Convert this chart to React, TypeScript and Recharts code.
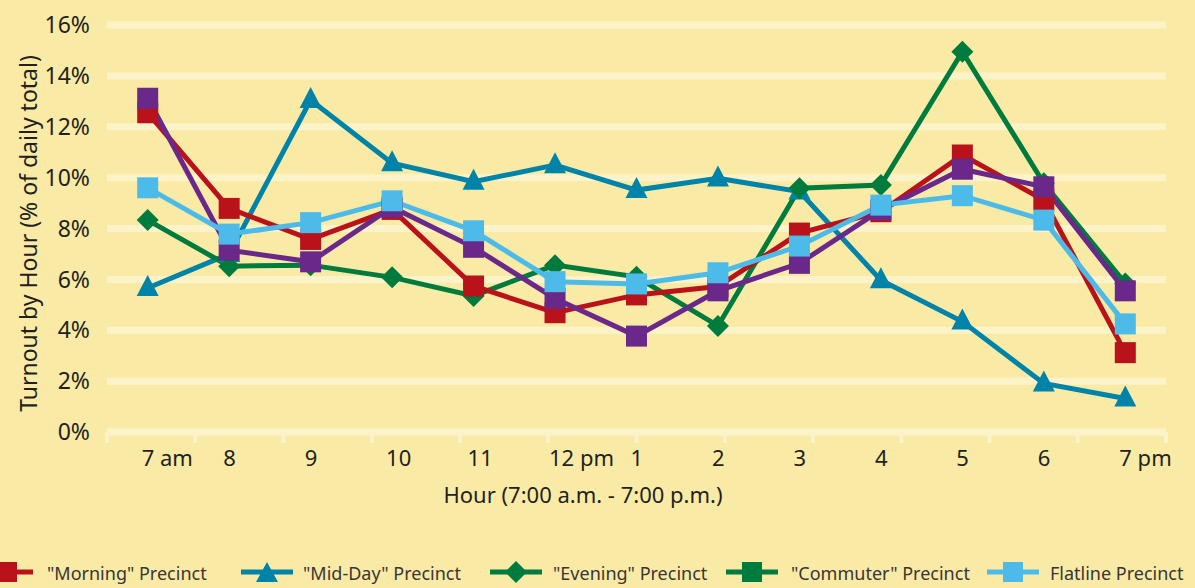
import { LineChart, Line, XAxis, YAxis, CartesianGrid } from "recharts"

const hours = ["7 am", "8", "9", "10", "11", "12 pm", "1", "2", "3", "4", "5", "6", "7 pm"]
const morning = [12.55, 8.79, 7.57, 8.75, 5.74, 4.69, 5.39, 5.72, 7.82, 8.66, 10.89, 9.12, 3.12]
const midDay = [5.66, 7.0, 13.05, 10.57, 9.84, 10.49, 9.51, 9.97, 9.45, 5.97, 4.34, 1.91, 1.32]
const evening = [8.33, 6.52, 6.56, 6.08, 5.35, 6.56, 6.1, 4.17, 9.58, 9.71, 14.95, 9.78, 5.84]
const commuter = [13.12, 7.15, 6.69, 8.84, 7.26, 5.25, 3.77, 5.55, 6.63, 8.73, 10.33, 9.64, 5.55]
const flatline = [9.6, 7.78, 8.23, 9.09, 7.91, 5.91, 5.82, 6.26, 7.31, 8.92, 9.29, 8.33, 4.25]
const yTicks = [0, 2, 4, 6, 8, 10, 12, 14, 16]
const bandEdges = [0, 1, 2, 3, 4, 5, 6, 7, 8, 9, 10, 11, 12, 13]

const legendNames = ['"Morning" Precinct', '"Mid-Day" Precinct', '"Evening" Precinct', '"Commuter" Precinct', "Flatline Precinct"]

const RED = "#b9121b"
const BLUE = "#0083a9"
const GREEN = "#007b3e"
const PURPLE = "#6a288a"
const LIGHT = "#4dbbe9"
const BG = "#f9eba5"
const BAND = "#fcf3c9"
const INK = "#231f20"

const data = hours.map((hour, i) => ({
  hour,
  morning: morning[i],
  midDay: midDay[i],
  evening: evening[i],
  commuter: commuter[i],
  flatline: flatline[i],
}))

const square = (color: string) => (props: any) => {
  const { cx, cy, index } = props
  return <rect key={index} x={cx - 10.5} y={cy - 10.5} width={21} height={21} fill={color} />
}
const triangle = (color: string) => (props: any) => {
  const { cx, cy, index } = props
  return <polygon key={index} points={`${cx},${cy - 13} ${cx + 11},${cy + 8} ${cx - 11},${cy + 8}`} fill={color} />
}
const diamond = (color: string) => (props: any) => {
  const { cx, cy, index } = props
  return <polygon key={index} points={`${cx},${cy - 11} ${cx + 11},${cy} ${cx},${cy + 11} ${cx - 11},${cy}`} fill={color} />
}

const EmptyTick = () => <g />

const HourTick = (props: any) => {
  const { x, y, payload } = props
  return (
    <text x={x - 6} y={y + 33} textAnchor="start" fontSize={22} fill={INK} fontFamily="Noto Sans">
      {payload.value}
    </text>
  )
}

function LegendIcon({ color, shape }: { color: string; shape: string }) {
  let marker
  if (shape === "triangle") marker = <polygon points="26,2 37,22 15,22" fill={color} />
  else if (shape === "diamond") marker = <polygon points="26,1 37,12 26,23 15,12" fill={color} />
  else marker = <rect x={16} y={2} width={20} height={20} fill={color} />
  return (
    <svg width={52} height={24}>
      <line x1={0} x2={52} y1={12} y2={12} stroke={color} strokeWidth={5} />
      {marker}
    </svg>
  )
}

const legendColors = [RED, BLUE, GREEN, GREEN, LIGHT]
const legendShapes = ["square", "triangle", "diamond", "square", "square"]
const legendIconX = [-19, 241, 490, 726, 987]
const legendTextX = [47, 303, 553, 791, 1050]

export default function App() {
  return (
    <div style={{ position: "absolute", left: 0, top: 0, width: 1195, height: 588, background: BG, overflow: "hidden" }}>
      <LineChart width={1195} height={588} data={data} margin={{ top: 25, right: 29, left: 0, bottom: 0 }}>
        <CartesianGrid vertical={false} stroke={BAND} strokeWidth={7} />
        <XAxis
          xAxisId="bounds"
          type="number"
          domain={[0, 13]}
          ticks={bandEdges}
          height={1}
          tick={EmptyTick}
          axisLine={{ stroke: BAND, strokeWidth: 7 }}
          tickLine={{ stroke: BAND, strokeWidth: 4 }}
          tickSize={11}
        />
        <XAxis
          xAxisId="cat"
          dataKey="hour"
          height={155}
          interval={0}
          padding={{ left: 40.7, right: 40.7 }}
          axisLine={false}
          tickLine={false}
          tickSize={0}
          tickMargin={0}
          tick={HourTick}
          label={{
            content: (p: any) => (
              <text x={583} y={p.viewBox.y + 70} textAnchor="middle" fontSize={22} fill={INK} fontFamily="Noto Sans">
                Hour (7:00 a.m. - 7:00 p.m.)
              </text>
            ),
          }}
        />
        <YAxis
          width={107}
          domain={[0, 16]}
          ticks={yTicks}
          tickFormatter={(v) => `${v}%`}
          axisLine={false}
          tickLine={false}
          tickSize={0}
          tickMargin={17}
          tick={{ fontSize: 23, fill: INK, fontFamily: "Noto Sans" }}
          label={{
            content: (p: any) => {
              const cy = p.viewBox.y + p.viewBox.height / 2 + 5
              return (
                <text x={28} y={cy} transform={`rotate(-90 28 ${cy})`} textAnchor="middle" dominantBaseline="central" fontSize={23} fill={INK} fontFamily="Noto Sans">
                  Turnout by Hour (% of daily total)
                </text>
              )
            },
          }}
        />
        <Line xAxisId="cat" dataKey="midDay" stroke={BLUE} strokeWidth={5} dot={triangle(BLUE)} isAnimationActive={false} />
        <Line xAxisId="cat" dataKey="evening" stroke={GREEN} strokeWidth={5} dot={diamond(GREEN)} isAnimationActive={false} />
        <Line xAxisId="cat" dataKey="morning" stroke={RED} strokeWidth={5} dot={square(RED)} isAnimationActive={false} />
        <Line xAxisId="cat" dataKey="commuter" stroke={PURPLE} strokeWidth={5} dot={square(PURPLE)} isAnimationActive={false} />
        <Line xAxisId="cat" dataKey="flatline" stroke={LIGHT} strokeWidth={5} dot={square(LIGHT)} isAnimationActive={false} />
      </LineChart>
      {legendNames.map((name, i) => (
        <div key={name}>
          <div style={{ position: "absolute", left: legendIconX[i], top: 560, lineHeight: 0 }}>
            <LegendIcon color={legendColors[i]} shape={legendShapes[i]} />
          </div>
          <div
            style={{
              position: "absolute",
              left: legendTextX[i],
              top: 562,
              fontFamily: "'Noto Sans'",
              fontSize: 18,
              color: "#3a3536",
              whiteSpace: "nowrap",
              lineHeight: "22px",
            }}
          >
            {name}
          </div>
        </div>
      ))}
    </div>
  )
}
